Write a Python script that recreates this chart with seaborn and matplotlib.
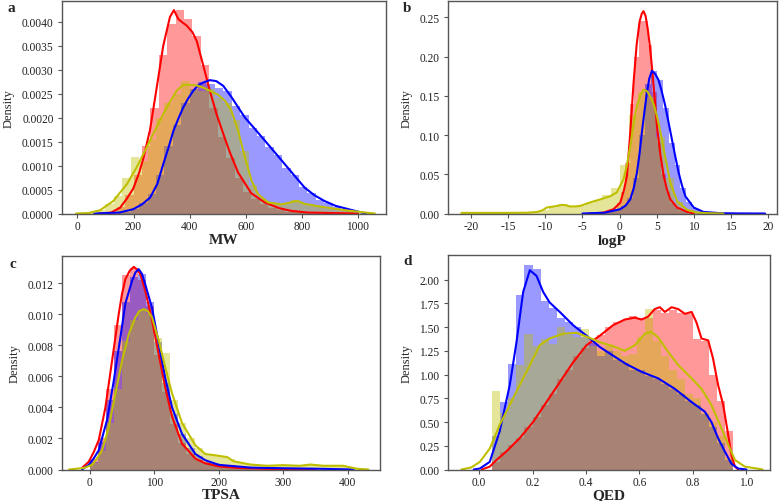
import matplotlib
matplotlib.use("Agg")
import matplotlib.pyplot as plt
import seaborn as sns
import numpy as np
import pandas as pd
from matplotlib.ticker import FormatStrFormatter

# ---- a: MW ----
mw_red_bins = (110, 30)
mw_red_hist = [0.03, 0.13, 0.38, 0.8, 1.4, 2.2, 3.3, 3.95, 4.25, 4.05, 3.7, 3.1, 2.2, 1.6, 1.15,
               0.75, 0.45, 0.3, 0.2, 0.12, 0.07, 0.04, 0.03, 0.02, 0.01]
mw_blue_bins = (100, 30)
mw_blue_hist = [0.01, 0.02, 0.04, 0.1, 0.22, 0.4, 0.8, 1.4, 1.85, 2.3, 2.6, 2.75, 2.7, 2.62, 2.55,
                2.25, 2.05, 1.78, 1.62, 1.38, 1.22, 0.95, 0.8, 0.55, 0.43, 0.28, 0.22, 0.14, 0.09, 0.04]
mw_yel_bins = (40, 30)
mw_yel_hist = [0.02, 0.07, 0.2, 0.37, 0.75, 1.17, 1.1, 1.55, 2.0, 2.3, 2.5, 2.77, 2.6, 2.55, 2.6,
               2.4, 2.3, 1.95, 1.3, 0.6, 0.3, 0.25, 0.2, 0.2, 0.28, 0.22, 0.15, 0.14, 0.1, 0.09,
               0.06, 0.04, 0.03, 0.01]
mw_red_kx = [80, 120, 152, 175, 199, 220, 235, 259, 282, 306, 330, 344, 360, 375, 389, 410, 425, 448,
             472, 496, 520, 543, 573, 620, 668, 720, 763, 820, 900, 1000]
mw_red_ky = [0, 0.02, 0.12, 0.3, 0.52, 0.85, 1.15, 1.75, 2.6, 3.5, 4.1, 4.24, 4.05, 3.98, 3.92, 3.78,
             3.6, 3.1, 2.56, 2.07, 1.66, 1.28, 0.85, 0.42, 0.23, 0.11, 0.054, 0.02, 0.01, 0]
mw_blue_kx = [60, 150, 199, 230, 259, 285, 306, 325, 342, 360, 377, 395, 413, 430, 448, 472, 495, 520,
              550, 597, 630, 668, 700, 739, 775, 810, 845, 881, 920, 953, 999, 1030]
mw_blue_ky = [0, 0.02, 0.09, 0.19, 0.33, 0.62, 1.03, 1.38, 1.72, 1.98, 2.21, 2.4, 2.56, 2.67, 2.73,
              2.78, 2.76, 2.66, 2.42, 2.0, 1.78, 1.52, 1.3, 1.03, 0.78, 0.54, 0.38, 0.26, 0.16, 0.11,
              0.04, 0]
mw_yel_kx = [-5, 40, 81, 128, 176, 211, 247, 282, 318, 354, 377, 400, 425, 450, 472, 500, 526, 549,
             573, 597, 621, 644, 680, 727, 760, 775, 790, 810, 881, 953, 1010, 1060]
mw_yel_ky = [0, 0.01, 0.07, 0.26, 0.61, 0.96, 1.38, 1.8, 2.21, 2.56, 2.68, 2.68, 2.67, 2.62, 2.56,
             2.48, 2.35, 2.14, 1.72, 1.17, 0.68, 0.4, 0.23, 0.19, 0.23, 0.26, 0.25, 0.2, 0.13, 0.07,
             0.03, 0]

# ---- b: logP ----
lp_red_bins = (-2.8, 0.6)
lp_red_hist = [0.001, 0.002, 0.004, 0.006, 0.013, 0.028, 0.065, 0.14, 0.2, 0.245, 0.246, 0.215,
               0.155, 0.09, 0.05, 0.027, 0.013, 0.007, 0.003, 0.0015]
lp_blue_bins = (-3.0, 0.8)
lp_blue_hist = [0.001, 0.002, 0.003, 0.005, 0.01, 0.02, 0.045, 0.1, 0.165, 0.182, 0.17, 0.135,
                0.09, 0.062, 0.033, 0.015, 0.007, 0.003, 0.0015, 0.0007, 0.0004, 0.0002]
lp_yel_bins = (-21.5, 1.2)
lp_yel_hist = [0.0008, 0.0006, 0.0007, 0.0006, 0.0008, 0.0007, 0.0009, 0.001, 0.0015, 0.004,
               0.009, 0.012, 0.009, 0.01, 0.013, 0.017, 0.023, 0.032, 0.062, 0.125, 0.155, 0.148,
               0.098, 0.045, 0.015, 0.005, 0.0015, 0.0005, 0.0002, 0.0001]
lp_red_kx = [-4.0, -2.2, -0.8, 0.1, 0.6, 1.0, 1.44, 1.88, 2.3, 2.7, 3.0, 3.23, 3.5, 3.8, 4.1, 4.36,
             4.7, 5.04, 5.5, 5.94, 6.4, 6.84, 7.74, 9.1, 10.0]
lp_red_ky = [0, 0.001, 0.0055, 0.014, 0.03, 0.048, 0.103, 0.166, 0.215, 0.245, 0.255, 0.258, 0.252,
             0.235, 0.212, 0.187, 0.15, 0.111, 0.075, 0.048, 0.03, 0.018, 0.0076, 0.002, 0]
lp_blue_kx = [-5.0, -2.0, 0.09, 0.8, 1.44, 1.9, 2.34, 2.7, 3.0, 3.35, 3.68, 4.0, 4.36, 4.8, 5.26,
              5.7, 6.16, 6.6, 7.06, 7.5, 7.96, 8.4, 8.86, 9.99, 11.3, 13.6, 16.0, 19.6]
lp_blue_ky = [0, 0.001, 0.0055, 0.01, 0.018, 0.032, 0.052, 0.077, 0.103, 0.13, 0.154, 0.172, 0.182,
              0.178, 0.17, 0.155, 0.137, 0.116, 0.094, 0.073, 0.052, 0.036, 0.022, 0.0076, 0.002,
              0.0004, 0.0001, 0]
lp_yel_kx = [-21.3, -18.0, -15.0, -12.5, -11.1, -10.4, -9.8, -8.4, -7.8, -7.2, -6.7, -6.0, -5.3,
             -4.0, -2.6, -1.26, -0.36, 0.54, 1.0, 1.44, 1.9, 2.34, 2.8, 3.23, 3.7, 4.14, 4.6, 5.04,
             5.5, 5.94, 6.4, 6.84, 7.74, 9.1, 10.4, 12.0, 14.0]
lp_yel_ky = [0.0008, 0.0008, 0.0008, 0.001, 0.002, 0.004, 0.0076, 0.0097, 0.011, 0.0105, 0.009,
             0.009, 0.0097, 0.014, 0.018, 0.022, 0.027, 0.044, 0.062, 0.086, 0.115, 0.137, 0.151,
             0.158, 0.156, 0.149, 0.139, 0.124, 0.104, 0.082, 0.06, 0.039, 0.016, 0.0047, 0.0013,
             0.0004, 0]

# ---- c: TPSA ----
tp_red_bins = (0, 12.5)
tp_red_hist = [0.0007, 0.002, 0.0052, 0.0093, 0.0125, 0.013, 0.0122, 0.0105, 0.0074, 0.005, 0.0029,
               0.0017, 0.001, 0.0006, 0.0004, 0.0003, 0.0002, 0.00015, 0.0001, 0.00005]
tp_blue_bins = (0, 12.5)
tp_blue_hist = [0.0005, 0.0018, 0.0045, 0.0076, 0.0108, 0.0124, 0.0126, 0.0108, 0.0082, 0.0056,
                0.0036, 0.0023, 0.0014, 0.0009, 0.0005, 0.0004, 0.0003, 0.00022, 0.00016, 0.00012,
                0.0001, 0.00009, 0.00008, 0.00007]
tp_yel_bins = (0, 12.5)
tp_yel_hist = [0.0004, 0.0012, 0.003, 0.0052, 0.0083, 0.0096, 0.0103, 0.01, 0.0085, 0.0075, 0.0045,
               0.003, 0.002, 0.0014, 0.001, 0.0009, 0.0009, 0.0007, 0.00045, 0.00035, 0.0003,
               0.00025, 0.00025, 0.0003, 0.00025, 0.00022, 0.0003, 0.00035, 0.00025, 0.00022,
               0.00025, 0.00024, 0.0001]
tp_red_kx = [-12, -1.5, 6, 14, 24.3, 34.6, 44.9, 50, 55.3, 62, 68.2, 73, 78.5, 86.2, 96.6, 107, 117,
             127.6, 143, 163.7, 179, 200, 230, 280, 350]
tp_red_ky = [0.0001, 0.0005, 0.0011, 0.0019, 0.004, 0.007, 0.01, 0.0113, 0.01226, 0.0128, 0.01305,
             0.0129, 0.01258, 0.0115, 0.0096, 0.0074, 0.0053, 0.0034, 0.00167, 0.0007, 0.0004,
             0.0002, 0.0001, 0.00003, 0]
tp_blue_kx = [-12, -1.5, 6, 14, 26.9, 37.2, 47.5, 55.3, 65.6, 71, 75.9, 81, 86.2, 96.6, 107, 117,
              127.6, 143, 163.7, 179, 200, 250, 300, 350, 409]
tp_blue_ky = [0, 0.0003, 0.0007, 0.00124, 0.0032, 0.0057, 0.0085, 0.0107, 0.01215, 0.0127, 0.0129,
              0.0126, 0.0119, 0.0104, 0.0081, 0.0059, 0.004, 0.0023, 0.001, 0.0006, 0.0003,
              0.00012, 0.00008, 0.00005, 0]
tp_yel_kx = [-32, -9, 3.7, 11, 19.2, 29.4, 39.8, 50.1, 60.4, 70.8, 77, 83.6, 90, 96.6, 107, 117,
             127.6, 143, 163.7, 179, 197, 213, 223, 249, 275, 300, 326, 342, 362, 393, 414, 432]
tp_yel_ky = [0, 0.0001, 0.0003, 0.0007, 0.00124, 0.0027, 0.0049, 0.007, 0.0087, 0.0098, 0.0102,
             0.01033, 0.0102, 0.0098, 0.0083, 0.0066, 0.0049, 0.003, 0.00156, 0.001, 0.0009,
             0.0008, 0.00053, 0.00032, 0.00024, 0.00028, 0.00024, 0.00032, 0.00024, 0.00024,
             0.00005, 0]

# ---- d: QED ----
qe_red_bins = (0.05, 0.03)
qe_red_hist = [0.08, 0.18, 0.26, 0.33, 0.45, 0.55, 0.68, 0.8, 0.95, 1.05, 1.2, 1.28, 1.38, 1.42,
               1.5, 1.55, 1.57, 1.62, 1.6, 1.6, 1.68, 1.65, 1.68, 1.65, 1.64, 1.37, 1.35, 1.0, 0.72,
               0.41]
qe_blue_bins = (0.05, 0.03)
qe_blue_hist = [0.35, 0.71, 1.11, 1.84, 2.15, 2.11, 1.78, 1.7, 1.6, 1.55, 1.5, 1.4, 1.33, 1.2, 1.25,
                1.15, 1.12, 1.05, 1.05, 0.98, 0.95, 0.9, 0.85, 0.8, 0.72, 0.68, 0.58, 0.45, 0.28,
                0.1]
qe_yel_bins = (0.05, 0.03)
qe_yel_hist = [0.83, 0.6, 0.75, 1.1, 1.43, 1.3, 1.38, 1.32, 1.5, 1.42, 1.4, 1.48, 1.3, 1.25, 1.3,
               1.25, 1.2, 1.22, 1.4, 1.69, 1.35, 1.2, 1.05, 0.95, 0.8, 0.75, 0.6, 0.5, 0.35, 0.12]
qe_red_kx = [0.01, 0.04, 0.065, 0.102, 0.152, 0.202, 0.252, 0.302, 0.352, 0.402, 0.452, 0.501,
             0.545, 0.583, 0.607, 0.632, 0.657, 0.676, 0.695, 0.72, 0.745, 0.77, 0.795, 0.813,
             0.832, 0.857, 0.875, 0.894, 0.913, 0.932, 0.944, 0.957, 0.969]
qe_red_ky = [0, 0.03, 0.1, 0.19, 0.33, 0.5, 0.71, 0.92, 1.13, 1.31, 1.41, 1.52, 1.58, 1.6, 1.58,
             1.61, 1.69, 1.71, 1.66, 1.71, 1.69, 1.64, 1.66, 1.55, 1.38, 1.36, 1.17, 0.89, 0.68,
             0.36, 0.15, 0.03, 0]
qe_blue_kx = [-0.02, 0.003, 0.04, 0.077, 0.115, 0.14, 0.165, 0.19, 0.215, 0.24, 0.264, 0.302,
              0.352, 0.402, 0.452, 0.501, 0.551, 0.607, 0.67, 0.732, 0.795, 0.844, 0.869, 0.894,
              0.919, 0.944, 0.969, 1.0]
qe_blue_ky = [0, 0.01, 0.08, 0.4, 0.89, 1.34, 1.87, 2.1, 2.04, 1.87, 1.76, 1.66, 1.52, 1.41, 1.29,
              1.2, 1.11, 1.03, 0.96, 0.85, 0.71, 0.61, 0.5, 0.33, 0.19, 0.06, 0.01, 0]
qe_yel_kx = [-0.066, -0.03, 0.003, 0.04, 0.077, 0.115, 0.152, 0.19, 0.227, 0.264, 0.314, 0.364,
             0.402, 0.452, 0.501, 0.545, 0.583, 0.62, 0.645, 0.67, 0.707, 0.745, 0.795, 0.832,
             0.869, 0.907, 0.932, 0.957, 0.994, 1.04, 1.06]
qe_yel_ky = [0, 0.02, 0.08, 0.22, 0.47, 0.68, 0.89, 1.1, 1.31, 1.38, 1.43, 1.44, 1.4, 1.34, 1.3,
             1.25, 1.31, 1.43, 1.45, 1.39, 1.24, 1.1, 0.96, 0.85, 0.68, 0.43, 0.26, 0.1, 0.03, 0.01,
             0]

sns.set_style("ticks")
plt.rcParams["font.family"] = ["Liberation Serif", "DejaVu Serif"]
plt.rcParams["axes.unicode_minus"] = False
plt.rcParams["axes.edgecolor"] = "#555555"
plt.rcParams["xtick.color"] = "#555555"
plt.rcParams["ytick.color"] = "#555555"
plt.rcParams["xtick.labelcolor"] = "#222222"
plt.rcParams["ytick.labelcolor"] = "#222222"


def draw_hist(ax, bins, heights, color, scale=1.0):
    start, width = bins
    edges = start + width * np.arange(len(heights) + 1)
    df = pd.DataFrame({"v": edges[:-1] + width / 2,
                       "w": np.array(heights) * scale})
    sns.histplot(data=df, x="v", weights="w", bins=edges.tolist(), color=color,
                 alpha=0.4, linewidth=0, ax=ax)


def draw_kde(ax, xs, ys, color, scale=1.0):
    sns.lineplot(x=xs, y=np.array(ys) * scale, color=color, linewidth=1.5, ax=ax)


W, H = 779, 502
fig = plt.figure(figsize=(W / 100, H / 100), dpi=100)


def make_ax(l, t, r, b):
    return fig.add_axes([l / W, 1 - b / H, (r - l) / W, (b - t) / H])


panels = [
    dict(box=(62, 2, 386, 214.5), xlabel="MW", label_top=234.5, letter="a", lpos=(7, 9),
         series=[(mw_red_bins, mw_red_hist, mw_red_kx, mw_red_ky, "r"),
                 (mw_blue_bins, mw_blue_hist, mw_blue_kx, mw_blue_ky, "b"),
                 (mw_yel_bins, mw_yel_hist, mw_yel_kx, mw_yel_ky, "y")],
         scale=1e-3, xlim=(-55, 1100), ylim=(0, 0.00443),
         xticks=np.arange(0, 1001, 200), yticks=np.arange(0, 0.00401, 0.0005),
         yfmt="%.4f", xfmt="%d"),
    dict(box=(448, 2, 777, 214.5), xlabel="logP", label_top=234.5, letter="b", lpos=(403, 9),
         series=[(lp_red_bins, lp_red_hist, lp_red_kx, lp_red_ky, "r"),
                 (lp_blue_bins, lp_blue_hist, lp_blue_kx, lp_blue_ky, "b"),
                 (lp_yel_bins, lp_yel_hist, lp_yel_kx, lp_yel_ky, "y")],
         scale=1.0, xlim=(-23.1, 21.2), ylim=(0, 0.271),
         xticks=np.arange(-20, 21, 5), yticks=np.arange(0, 0.251, 0.05),
         yfmt="%.2f", xfmt="%d"),
    dict(box=(62, 257, 380, 470.5), xlabel="TPSA", label_top=489.3, letter="c", lpos=(10, 265),
         series=[(tp_red_bins, tp_red_hist, tp_red_kx, tp_red_ky, "r"),
                 (tp_blue_bins, tp_blue_hist, tp_blue_kx, tp_blue_ky, "b"),
                 (tp_yel_bins, tp_yel_hist, tp_yel_kx, tp_yel_ky, "y")],
         scale=1.0, xlim=(-43, 450), ylim=(0, 0.01375),
         xticks=np.arange(0, 401, 100), yticks=np.arange(0, 0.0121, 0.002),
         yfmt="%.3f", xfmt="%d"),
    dict(box=(448, 256, 770, 470.5), xlabel="QED", label_top=489.3, letter="d", lpos=(403, 261.5),
         series=[(qe_red_bins, qe_red_hist, qe_red_kx, qe_red_ky, "r"),
                 (qe_blue_bins, qe_blue_hist, qe_blue_kx, qe_blue_ky, "b"),
                 (qe_yel_bins, qe_yel_hist, qe_yel_kx, qe_yel_ky, "y")],
         scale=1.0, xlim=(-0.116, 1.088), ylim=(0, 2.26),
         xticks=np.arange(0, 1.01, 0.2), yticks=np.arange(0, 2.01, 0.25),
         yfmt="%.2f", xfmt="%.1f"),
]

for p in panels:
    ax = make_ax(*p["box"])
    for bins, hist, kx, ky, c in p["series"]:
        draw_hist(ax, bins, hist, c, p["scale"])
    for bins, hist, kx, ky, c in p["series"]:
        draw_kde(ax, kx, ky, c, p["scale"])
    ax.set_xlim(*p["xlim"])
    ax.set_ylim(*p["ylim"])
    ax.set_xticks(p["xticks"])
    ax.set_yticks(p["yticks"])
    ax.xaxis.set_major_formatter(FormatStrFormatter(p["xfmt"]))
    ax.yaxis.set_major_formatter(FormatStrFormatter(p["yfmt"]))
    ax.tick_params(labelsize=8.3, length=3, width=0.8)
    ax.tick_params(axis="x", pad=1.5)
    ax.tick_params(axis="y", pad=3)
    ax.set_xlabel(p["xlabel"], fontsize=11, fontweight="bold")
    l, t, r, b = p["box"]
    ax.xaxis.set_label_coords(0.5, -(p["label_top"] - b) / (b - t))
    ax.set_ylabel("Density", fontsize=9, labelpad=5)
    for s in ax.spines.values():
        s.set_linewidth(1.0)
    fig.text(p["lpos"][0] / W, 1 - p["lpos"][1] / H, p["letter"], fontsize=11,
             fontweight="bold", va="center", ha="left")

fig.savefig("out.png", dpi=100)
